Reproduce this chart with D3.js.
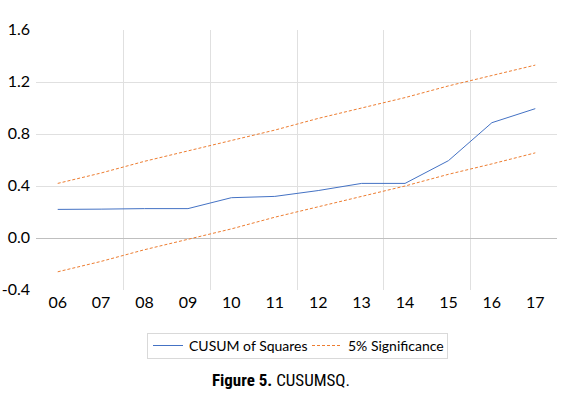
<!DOCTYPE html>
<html><head><meta charset="utf-8">
<script src="https://cdn.jsdelivr.net/npm/d3@7/dist/d3.min.js"></script>
<style>body{margin:0;background:#fff}</style>
</head><body>
<svg id="c" width="578" height="398"></svg>
<script>
const categories = ["06","07","08","09","10","11","12","13","14","15","16","17"];
const cusum = [0.22,0.222,0.226,0.226,0.31,0.32,0.365,0.42,0.42,0.595,0.887,0.995];
const upper = [0.42,0.50,0.59,0.67,0.75,0.83,0.92,1.00,1.08,1.17,1.25,1.33];
const lower = [-0.26,-0.18,-0.09,-0.01,0.07,0.16,0.24,0.32,0.40,0.49,0.57,0.655];
const yTicks = [-0.4,0.0,0.4,0.8,1.2,1.6];
const seriesNames = ["CUSUM of Squares","5% Significance"];

const svg = d3.select("#c");
const font = "Lato, 'Open Sans', sans-serif";
const x = d3.scaleBand().domain(categories).range([36,557]);
const y = d3.scaleLinear().domain([-0.4,1.6]).range([290,30]);

// horizontal gridlines
svg.append("g").selectAll("line").data(yTicks.filter(d=>d>-0.4 && d<1.6 && d!==0)).join("line")
  .attr("x1",36).attr("x2",557).attr("y1",d=>Math.round(y(d))+0.5).attr("y2",d=>Math.round(y(d))+0.5)
  .attr("stroke","#e0e0e0").attr("stroke-width",1);
// vertical gridlines every two categories
const vIdx = [2,4,6,8,10];
svg.append("g").selectAll("line").data(vIdx).join("line")
  .attr("x1",i=>Math.round(x(categories[i]))+0.5).attr("x2",i=>Math.round(x(categories[i]))+0.5)
  .attr("y1",y(1.6)).attr("y2",y(-0.4))
  .attr("stroke","#e0e0e0").attr("stroke-width",1);
// zero line
svg.append("line").attr("x1",36).attr("x2",557).attr("y1",Math.round(y(0))+0.5).attr("y2",Math.round(y(0))+0.5)
  .attr("stroke","#bfbfbf").attr("stroke-width",1);

// y labels
svg.append("g").selectAll("text").data(yTicks).join("text")
  .attr("x",30).attr("y",d=>y(d)+5).attr("text-anchor","end")
  .attr("font-family",font).attr("font-size",16).attr("fill","#000")
  .text(d=>d3.format(".1f")(d).replace("\u2212","-"));
// x labels
svg.append("g").selectAll("text").data(categories).join("text")
  .attr("x",d=>x(d)+x.bandwidth()/2).attr("y",308).attr("text-anchor","middle")
  .attr("font-family",font).attr("font-size",16).attr("fill","#000").text(d=>d);

const line = d3.line().x((d,i)=>x(categories[i])+x.bandwidth()/2).y(d=>y(d));
svg.append("path").datum(upper).attr("d",line).attr("fill","none").attr("stroke","#ED7D31").attr("stroke-width",1).attr("stroke-dasharray","3,2");
svg.append("path").datum(lower).attr("d",line).attr("fill","none").attr("stroke","#ED7D31").attr("stroke-width",1).attr("stroke-dasharray","3,2");
svg.append("path").datum(cusum).attr("d",line).attr("fill","none").attr("stroke","#4472C4").attr("stroke-width",1);

// legend
svg.append("rect").attr("x",147.5).attr("y",333.5).attr("width",300).attr("height",25).attr("fill","#fff").attr("stroke","#d9d9d9");
svg.append("line").attr("x1",153).attr("x2",183).attr("y1",345.5).attr("y2",345.5).attr("stroke","#4472C4");
svg.append("text").attr("x",189).attr("y",350.5).attr("font-family",font).attr("font-size",14).text(seriesNames[0]);
svg.append("line").attr("x1",312).attr("x2",341).attr("y1",345.5).attr("y2",345.5).attr("stroke","#ED7D31").attr("stroke-dasharray","3,2");
svg.append("text").attr("x",348).attr("y",350.5).attr("font-family",font).attr("font-size",14).text(seriesNames[1]);

// caption
const cap = svg.append("text").attr("x",281).attr("y",386).attr("text-anchor","middle")
  .attr("font-family","'Liberation Sans Narrow','Roboto Condensed','DejaVu Sans Condensed',sans-serif").attr("font-size",17).attr("fill","#000");
cap.append("tspan").attr("font-weight","bold").text("Figure 5.");
cap.append("tspan").text(" CUSUMSQ.");
</script>
</body></html>
